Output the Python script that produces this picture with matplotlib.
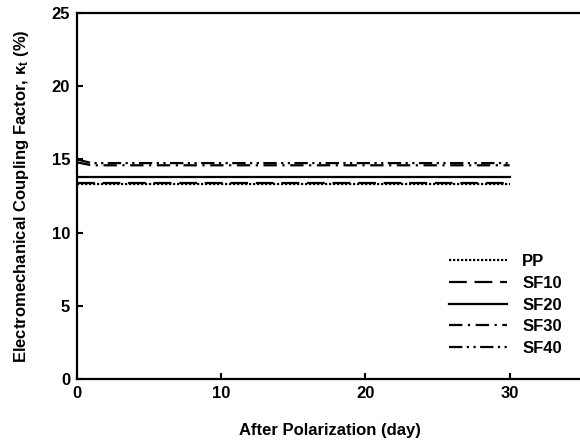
import matplotlib
matplotlib.use("Agg")
import matplotlib.pyplot as plt

plt.rcParams['font.family'] = ['Liberation Sans', 'DejaVu Sans']
plt.rcParams['font.weight'] = 'bold'
plt.rcParams['mathtext.fontset'] = 'custom'
plt.rcParams['mathtext.bf'] = 'Liberation Sans:bold'
plt.rcParams['mathtext.it'] = 'Liberation Sans:bold:italic'

# data
days = [0, 1, 7, 14, 21, 30]
pp = [13.35, 13.35, 13.35, 13.35, 13.35, 13.35]
sf10 = [13.4, 13.4, 13.4, 13.4, 13.4, 13.4]
sf20 = [13.8, 13.8, 13.8, 13.8, 13.8, 13.8]
sf30 = [14.8, 14.6, 14.6, 14.6, 14.6, 14.6]
sf40 = [15.0, 14.75, 14.75, 14.75, 14.75, 14.75]
labels = ['PP', 'SF10', 'SF20', 'SF30', 'SF40']

fig = plt.figure(figsize=(5.8, 4.43), dpi=100)
ax = fig.add_axes([0.133, 0.1445, 0.87, 0.826])

lw = 1.6
ax.plot(days, pp, color='black', lw=lw, linestyle=(0, (1, 0.8)), label=labels[0])
ax.plot(days, sf10, color='black', lw=lw, linestyle=(0, (8, 3.5)), label=labels[1])
ax.plot(days, sf20, color='black', lw=lw, linestyle='-', label=labels[2])
ax.plot(days, sf30, color='black', lw=lw, linestyle=(0, (6, 2.5, 1, 2.5)), label=labels[3])
ax.plot(days, sf40, color='black', lw=lw, linestyle=(0, (6, 2, 1, 2, 1, 2)), label=labels[4])

ax.set_xlim(0, 35)
ax.set_ylim(0, 25)
ax.set_xticks([0, 10, 20, 30])
ax.set_yticks([0, 5, 10, 15, 20, 25])
ax.tick_params(direction='in', length=4, width=1.5, labelsize=12, pad=5)
for s in ax.spines.values():
    s.set_linewidth(1.6)

ax.set_xlabel('After Polarization (day)', fontsize=12, fontweight='bold', labelpad=16)
ax.set_ylabel(r'Electromechanical Coupling Factor, $\mathbf{\kappa_t}$ (%)',
              fontsize=12, fontweight='bold', labelpad=15)

leg = ax.legend(loc='lower right', bbox_to_anchor=(0.99, 0.022), frameon=False,
                fontsize=12, handlelength=3.5, labelspacing=0.4, handletextpad=0.9)

fig.savefig('out.png', dpi=100)
